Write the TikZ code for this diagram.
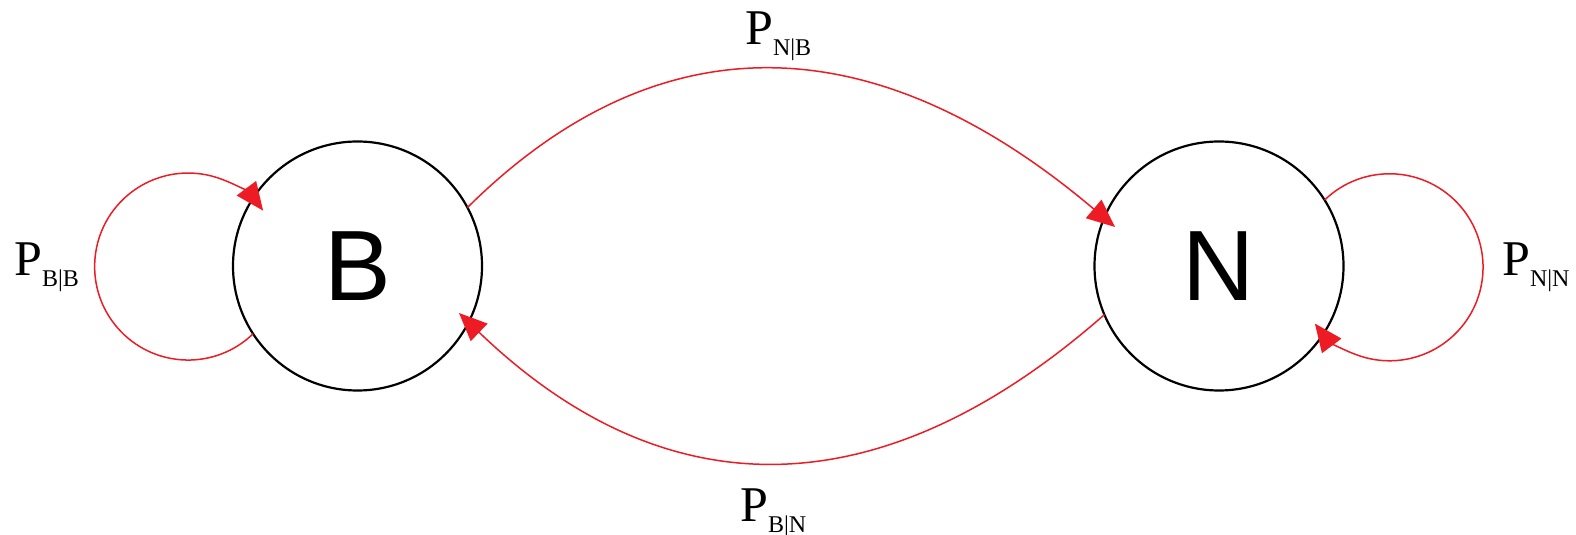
\documentclass[tikz,border=0pt]{standalone}
\usepackage{fontspec}
\newfontfamily\lsans{Liberation Sans}
\newfontfamily\lserif{Liberation Serif}
\usetikzlibrary{arrows.meta}
\definecolor{arrred}{RGB}{237,28,36}
\newcommand\mysub[1]{\raisebox{-10.5pt}{\fontsize{24}{24}\selectfont #1}}
\begin{document}
\begin{tikzpicture}[x=1pt,y=1pt,
  state/.style={circle,draw=black,line width=2.2pt,minimum size=249pt,inner sep=0pt,outer sep=0pt,font=\lsans\fontsize{100}{100}\selectfont},
  trans/.style={draw=arrred,line width=1.5pt,-{Triangle[length=28pt,width=24pt]}},
  plabel/.style={anchor=base west,inner sep=0pt,font=\lserif\fontsize{50}{50}\selectfont}]
\useasboundingbox (0,0) rectangle (1576,535);
\node[state] (B) at (357.5,269) {B};
\node[state] (N) at (1219,269) {N};
\coordinate (tNB) at (1115,308);
\coordinate (tBN) at (459,222);
\draw[trans] (B.28) .. controls (659,517.3) and (875,511) .. (tNB);
\draw[trans] (N.203) .. controls (880,23.3) and (665,24) .. (tBN);
\draw[trans] (B.213) arc[start angle=-46, end angle=-323.3, radius=93.5];
\draw[trans] (N.32) arc[start angle=134, end angle=-143, radius=93.5];
\node[plabel] (lNB) at (745,490) {P\mysub{N|B}};
\node[plabel] (lBN) at (740,13) {P\mysub{B|N}};
\node[plabel] (lBB) at (14,259) {P\mysub{B|B}};
\node[plabel] (lNN) at (1502,259) {P\mysub{N|N}};
\end{tikzpicture}
\end{document}
